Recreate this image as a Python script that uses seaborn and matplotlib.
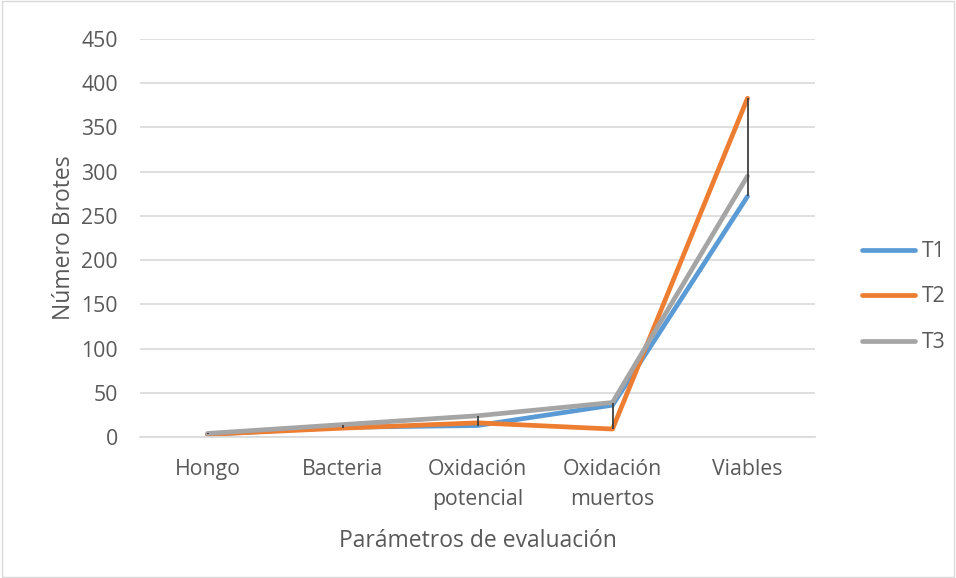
import numpy as np
import pandas as pd
import matplotlib
matplotlib.use("Agg")
import matplotlib.pyplot as plt
import seaborn as sns
from matplotlib.lines import Line2D

categories = ["Hongo", "Bacteria", "Oxidación\npotencial", "Oxidación\nmuertos", "Viables"]
t1 = [3, 11, 13, 36, 272]
t2 = [3, 10, 16, 9, 383]
t3 = [4, 14, 24, 39, 295]
series_names = ["T1", "T2", "T3"]
y_ticks = [0, 50, 100, 150, 200, 250, 300, 350, 400, 450]

colors = {"T1": "#5b9bd5", "T2": "#ed7d31", "T3": "#a5a5a5"}

sns.set_theme(style="white")
plt.rcParams['font.family'] = ['Open Sans', 'DejaVu Sans']

rows = []
for name, vals in zip(series_names, [t1, t2, t3]):
    for i, v in enumerate(vals):
        rows.append({"cat": i, "serie": name, "valor": v})
df = pd.DataFrame(rows)

fig = plt.figure(figsize=(9.56, 5.78), dpi=100)
ax = fig.add_axes([140/956, 1-437/578, 675/956, 398/578])

sns.lineplot(data=df, x="cat", y="valor", hue="serie", palette=colors,
             linewidth=3.4, ax=ax, legend=False, sort=False,
             solid_capstyle="round", solid_joinstyle="round")

# high-low lines
arr = np.array([t1, t2, t3])
ax.vlines(range(len(categories)), arr.min(axis=0), arr.max(axis=0),
          color="#404040", linewidth=1.3, zorder=5)

ax.set_xlim(-0.5, len(categories) - 0.5)
ax.set_ylim(0, 450)
ax.set_yticks(y_ticks)
ax.set_xticks(range(len(categories)))
ax.set_xticklabels(categories, linespacing=1.55)
ax.tick_params(axis="both", colors="#595959", labelsize=15.3, length=0)
ax.tick_params(axis="y", pad=16)
ax.tick_params(axis="x", pad=16)
ax.yaxis.grid(True, color="#d9d9d9", linewidth=1.2)
ax.set_axisbelow(True)
for s in ["top", "right", "left"]:
    ax.spines[s].set_visible(False)
ax.spines["bottom"].set_color("#d9d9d9")
ax.spines["bottom"].set_linewidth(1.2)

ax.set_xlabel("Parámetros de evaluación", fontsize=16.5, color="#595959", labelpad=14)
ax.set_ylabel("Número Brotes", fontsize=16.5, color="#595959", labelpad=4)

handles = [Line2D([0], [0], color=colors[n], linewidth=3.4, solid_capstyle="round") for n in series_names]
fig.legend(handles, series_names, loc="center left", bbox_to_anchor=(843/956, 1-297/578),
           frameon=False, fontsize=15.3, labelcolor="#595959", handlelength=2.5,
           labelspacing=1.15, handletextpad=0.3)

fig.patches.append(matplotlib.patches.Rectangle((0.002, 0.002), 0.996, 0.996,
                   transform=fig.transFigure, fill=False, edgecolor="#d9d9d9", linewidth=1))

fig.savefig("out.png", dpi=100, facecolor="white")
